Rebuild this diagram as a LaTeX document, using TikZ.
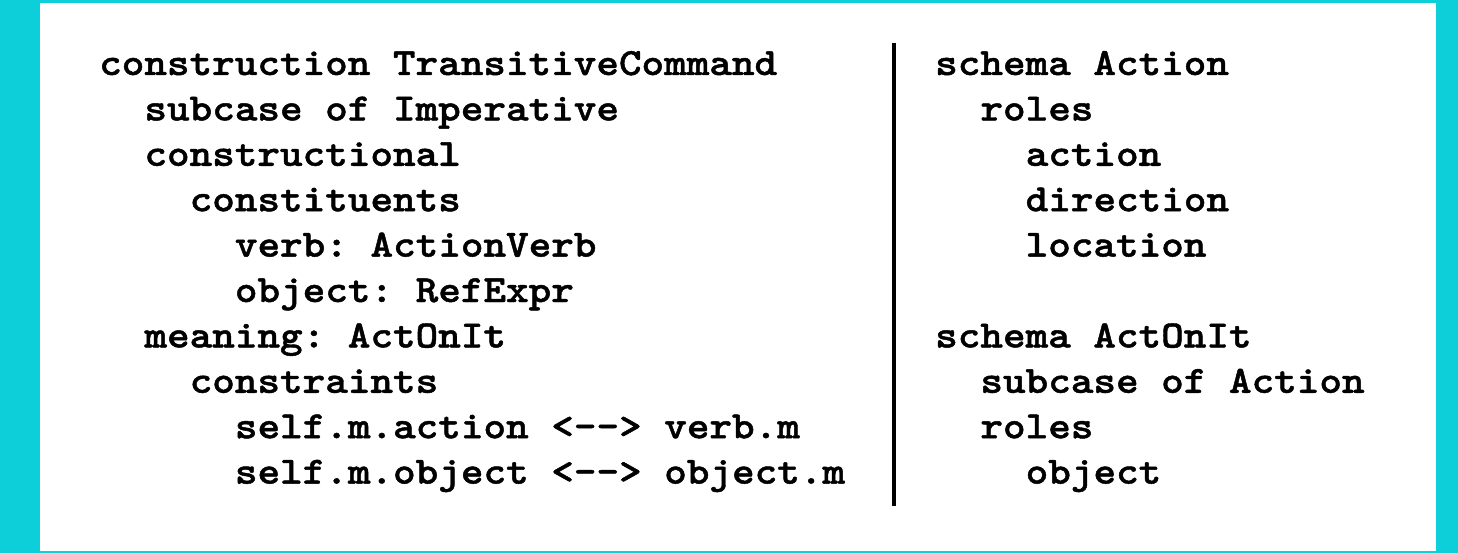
\documentclass[tikz,border=0pt]{standalone}
\usepackage{fontspec}
\setmonofont{Latin Modern Mono Light}[FakeStretch=1.118, BoldFeatures={FakeBold=1.2}]
\definecolor{framecyan}{HTML}{0DCFD9}
\newcommand{\codefont}{\fontsize{38.5}{45.4}\selectfont\ttfamily\bfseries}

\begin{document}
\begin{tikzpicture}[
				x=1pt, y=-1pt,
				codeline/.style={anchor=base west, inner sep=0pt, font=\codefont},
				divider/.style={draw=black, line width=4.5pt},
				indent/.store in=\indentw, indent=22.62
				]
				
				% frame and panel
				\fill[framecyan] (0,0) rectangle (1458,553);
				\fill[white] (40,3) rectangle (1436,551);
				\useasboundingbox (0,0) rectangle (1458,553);
				
				% construction (left column)
				\foreach \lvl/\txt [count=\i] in {
					0/construction TransitiveCommand,
					1/subcase of Imperative,
					1/constructional,
					2/constituents,
					3/verb: ActionVerb,
					3/object: RefExpr,
					1/meaning: ActOnIt,
					2/constraints,
					3/self.m.action <-{}-> verb.m,
					3/self.m.object <-{}-> object.m}
				{
					\node[codeline] (l\i) at ({99+2*\lvl*\indentw}, {75+(\i-1)*45.4}) {\txt};
				}
				
				% schemas (right column)
				\foreach \lvl/\txt [count=\i] in {
					0/schema Action,
					1/roles,
					2/action,
					2/direction,
					2/location,
					0/{},
					0/schema ActOnIt,
					1/subcase of Action,
					1/roles,
					2/object}
				{
					\node[codeline] (r\i) at ({935+2*\lvl*\indentw}, {75+(\i-1)*45.4}) {\txt};
				}
				
				\coordinate (divtop) at (894,43);
				\coordinate (divbot) at (894,506);
				\draw[divider] (divtop) -- (divbot);
				
			\end{tikzpicture}
\end{document}
